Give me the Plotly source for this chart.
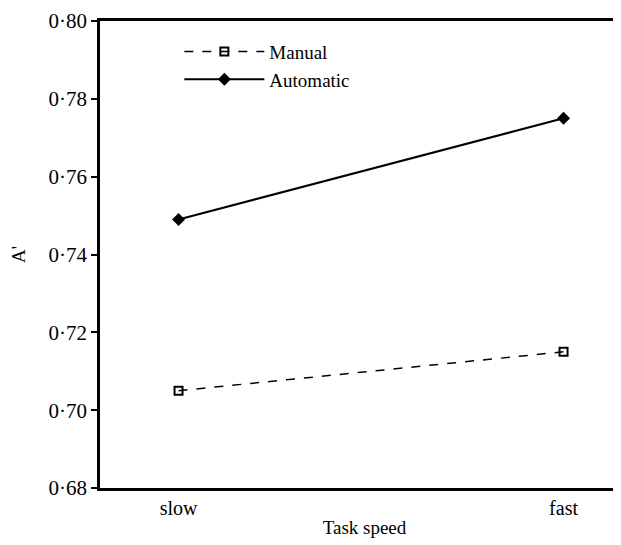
import plotly.graph_objects as go

categories = ["slow", "fast"]
manual = [0.705, 0.715]
automatic = [0.749, 0.775]
ytick_vals = [0.68, 0.70, 0.72, 0.74, 0.76, 0.78, 0.80]
ytick_text = ["0·68", "0·70", "0·72", "0·74", "0·76", "0·78", "0·80"]

FONT = "Liberation Serif"
xpos = list(range(len(categories)))

fig = go.Figure()
fig.add_trace(go.Scatter(
    x=xpos, y=manual, name="Manual", mode="lines+markers",
    line=dict(color="black", width=1.5, dash="dash"),
    marker=dict(symbol="square-open", size=8, color="black", line=dict(width=2)),
))
fig.add_trace(go.Scatter(
    x=xpos, y=automatic, name="Automatic", mode="lines+markers",
    line=dict(color="black", width=2),
    marker=dict(symbol="diamond", size=10, color="black"),
))

fig.update_layout(
    width=621, height=545,
    margin=dict(l=92, r=0, t=13, b=65),
    paper_bgcolor="white", plot_bgcolor="white",
    font=dict(family=FONT, size=19, color="black"),
    legend=dict(x=0.15, y=0.975, xanchor="left", yanchor="top",
                bgcolor="rgba(0,0,0,0)", itemwidth=80,
                font=dict(family=FONT, size=19), tracegroupgap=0),
    xaxis=dict(range=[-0.204, 1.17], tickvals=xpos, ticktext=categories,
               showline=True, linecolor="black", linewidth=2.5, mirror=True,
               showgrid=False, zeroline=False, ticks="",
               title=dict(text="Task speed", standoff=3,
                          font=dict(family=FONT, size=19)),
               tickfont=dict(family=FONT, size=20)),
    yaxis=dict(range=[0.68, 0.80], tickvals=ytick_vals, ticktext=ytick_text,
               showline=True, linecolor="black", linewidth=2.5,
               showgrid=False, zeroline=False,
               ticks="outside", ticklen=6, tickwidth=2, tickcolor="black",
               title=dict(text="A'", standoff=18,
                          font=dict(family=FONT, size=19)),
               tickfont=dict(family=FONT, size=21)),
)

fig.write_html("out.html")
